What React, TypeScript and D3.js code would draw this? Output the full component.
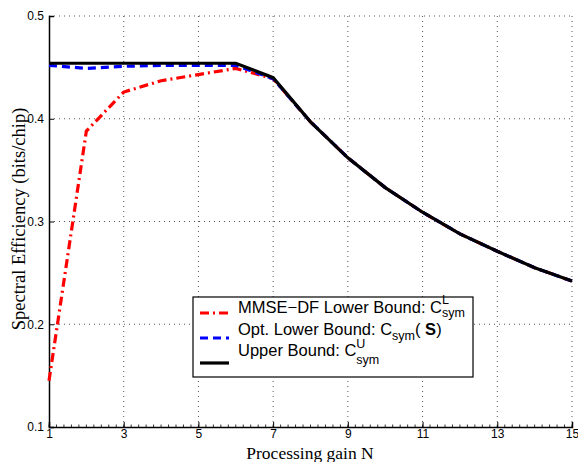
import React, { useEffect, useRef } from 'react'
import * as d3 from 'd3'

// processing gain N
const gains = [1, 2, 3, 4, 5, 6, 7, 8, 9, 10, 11, 12, 13, 14, 15]
const mmseDf = [0.145, 0.388, 0.426, 0.437, 0.443, 0.449, 0.439, 0.397, 0.362, 0.333, 0.309, 0.288, 0.271, 0.255, 0.242]
const optLower = [0.452, 0.449, 0.451, 0.452, 0.452, 0.452, 0.439, 0.397, 0.362, 0.333, 0.309, 0.288, 0.271, 0.255, 0.242]
const upper = [0.454, 0.454, 0.454, 0.454, 0.454, 0.454, 0.440, 0.397, 0.362, 0.333, 0.309, 0.288, 0.271, 0.255, 0.242]
const xTicks = [1, 3, 5, 7, 9, 11, 13, 15]
const yTicks = [0.1, 0.2, 0.3, 0.4, 0.5]

const W = 578, H = 462
const left = 49, right = 572, top = 16, bottom = 427
const sans = 'Liberation Sans, Arial, sans-serif'
const serif = 'Liberation Serif, Times New Roman, serif'

export default function App() {
  const ref = useRef<SVGSVGElement>(null)

  useEffect(() => {
    const svg = d3.select(ref.current)
    svg.selectAll('*').remove()

    const x = d3.scaleLinear().domain([1, 15]).range([left, right])
    const y = d3.scaleLinear().domain([0.1, 0.5]).range([bottom, top])

    svg.append('rect').attr('width', W).attr('height', H).attr('fill', 'white')

    // grid
    const grid = svg.append('g').attr('stroke', '#555').attr('stroke-width', 1).attr('stroke-dasharray', '1,4')
    xTicks.slice(1).forEach(t => {
      grid.append('line').attr('x1', x(t)).attr('x2', x(t)).attr('y1', top).attr('y2', bottom)
    })
    yTicks.slice(1).forEach(t => {
      grid.append('line').attr('x1', left).attr('x2', right).attr('y1', y(t)).attr('y2', y(t))
    })

    // axes
    const xAxis = svg.append('g').attr('transform', `translate(0,${bottom})`)
      .call(d3.axisBottom(x).tickValues(xTicks).tickSize(-5).tickPadding(2).tickFormat(d3.format('d')))
    const yAxis = svg.append('g').attr('transform', `translate(${left},0)`)
      .call(d3.axisLeft(y).tickValues(yTicks).tickSize(-5).tickPadding(5).tickFormat(d3.format('.1f')))
    ;[xAxis, yAxis].forEach(g => {
      g.select('.domain').attr('stroke', 'black').attr('stroke-width', 1.5)
      g.selectAll('.tick line').attr('stroke', 'black')
      g.selectAll('.tick text').attr('font-family', sans).attr('font-size', 12).attr('fill', 'black')
    })
    // minor ticks on x
    const minor = d3.range(1, 15.001, 0.2)
    svg.append('g').selectAll('line').data(minor).enter().append('line')
      .attr('x1', d => x(d)).attr('x2', d => x(d))
      .attr('y1', bottom).attr('y2', bottom - 2.5)
      .attr('stroke', 'black').attr('stroke-width', 0.8)

    const line = d3.line<number>().x((d, i) => x(gains[i])).y(d => y(d))

    const series = [
      { data: mmseDf, color: 'red', dash: '9,4,2,4' },
      { data: optLower, color: 'blue', dash: '8,5' },
      { data: upper, color: 'black', dash: null },
    ]
    series.forEach(s => {
      svg.append('path').datum(s.data).attr('d', line)
        .attr('fill', 'none').attr('stroke', s.color).attr('stroke-width', 3.2)
        .attr('stroke-dasharray', s.dash)
    })

    // legend
    const lg = svg.append('g')
    lg.append('rect').attr('x', 193).attr('y', 297).attr('width', 280).attr('height', 80)
      .attr('fill', 'white').attr('stroke', 'black').attr('stroke-width', 1.2)
    const rows = [
      { color: 'red', dash: '9,4,2,4', y: 313, ty: 313 },
      { color: 'blue', dash: '8,5', y: 338, ty: 335 },
      { color: 'black', dash: null, y: 363, ty: 356 },
    ]
    rows.forEach(r => {
      lg.append('line').attr('x1', 200).attr('x2', 229).attr('y1', r.y).attr('y2', r.y)
        .attr('stroke', r.color).attr('stroke-width', 3.2).attr('stroke-dasharray', r.dash)
    })
    const fs = 16.5, ss = 12.5
    const t1 = lg.append('text').attr('x', 238).attr('y', rows[0].ty).attr('font-family', sans).attr('font-size', fs)
    t1.append('tspan').text('MMSE\u2212DF Lower Bound: C')
    t1.append('tspan').attr('dy', -9).attr('font-size', ss).text('L')
    t1.append('tspan').attr('dx', -7).attr('dy', 13).attr('font-size', ss).text('sym')

    const t2 = lg.append('text').attr('x', 238).attr('y', rows[1].ty).attr('font-family', sans).attr('font-size', fs)
    t2.append('tspan').text('Opt. Lower Bound: C')
    t2.append('tspan').attr('dy', 5).attr('font-size', ss).text('sym')
    t2.append('tspan').attr('dy', -5).text('( ')
    t2.append('tspan').attr('font-weight', 'bold').text('S')
    t2.append('tspan').text(')')

    const t3 = lg.append('text').attr('x', 238).attr('y', rows[2].ty).attr('font-family', sans).attr('font-size', fs)
    t3.append('tspan').text('Upper Bound: C')
    t3.append('tspan').attr('dy', -8).attr('font-size', ss).text('U')
    t3.append('tspan').attr('dx', -9).attr('dy', 16).attr('font-size', ss).text('sym')

    // axis titles
    svg.append('text').attr('x', 310).attr('y', 458.5).attr('text-anchor', 'middle')
      .attr('font-family', serif).attr('font-size', 17.5).text('Processing gain N')
    svg.append('text').attr('transform', `translate(25,219) rotate(-90)`)
      .attr('text-anchor', 'middle').attr('font-family', serif).attr('font-size', 18.5)
      .text('Spectral Efficiency (bits/chip)')
  }, [])

  return <svg ref={ref} width={W} height={H} style={{ position: 'absolute', left: 0, top: 0 }}></svg>
}
